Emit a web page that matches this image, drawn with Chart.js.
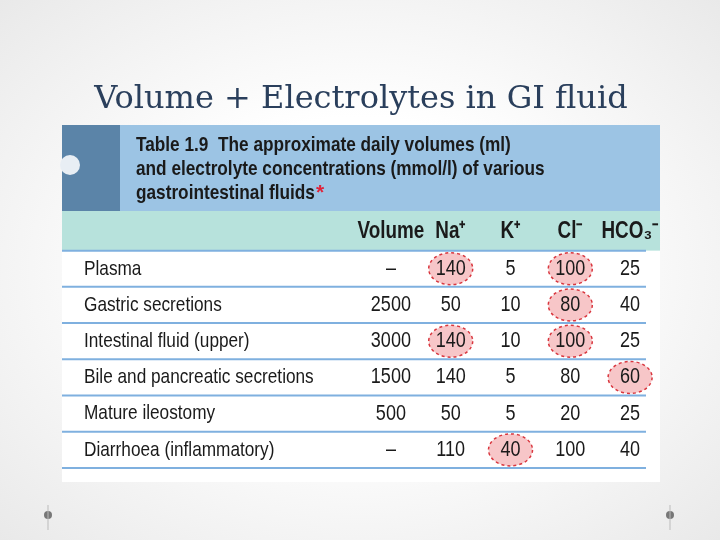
<!DOCTYPE html>
<html>
<head>
<meta charset="utf-8">
<script src="https://cdn.jsdelivr.net/npm/chart.js@4"></script>
<style>
  body { margin: 0; background: radial-gradient(ellipse at center, #ffffff 40%, #e9e9e9 100%); width: 720px; height: 540px; overflow: hidden; }
  #wrap { position: absolute; left: 0; top: 0; width: 720px; height: 540px; }
</style>
</head>
<body>
<div id="wrap"><canvas id="c" width="720" height="540"></canvas></div>
<script>
const slideTitle = 'Volume + Electrolytes in GI fluid';
const tableTitle = ['Table 1.9  The approximate daily volumes (ml)', 'and electrolyte concentrations (mmol/l) of various', 'gastrointestinal fluids'];
const columns = ['Volume', 'Na⁺', 'K⁺', 'Cl⁻', 'HCO₃⁻'];
const rowNames = ['Plasma', 'Gastric secretions', 'Intestinal fluid (upper)', 'Bile and pancreatic secretions', 'Mature ileostomy', 'Diarrhoea (inflammatory)'];
const volume = ['–', '2500', '3000', '1500', '500', '–'];
const sodium = [140, 50, 140, 140, 50, 110];
const potassium = [5, 10, 10, 5, 5, 40];
const chloride = [100, 80, 100, 80, 20, 100];
const bicarbonate = [25, 40, 25, 60, 25, 40];
// highlighted cells [row, column index]
const circled = [[0, 1], [0, 3], [1, 3], [2, 1], [2, 3], [3, 4], [5, 2]];

const PAD = 5; // empty slots before first value column (room for row names)
const xLabels = [...Array(PAD).fill(''), ...columns];
const yLabels = ['header', ...rowNames];
const valueCols = [volume, sodium, potassium, chloride, bicarbonate];

const cells = [];
rowNames.forEach((r, ri) => valueCols.forEach((col, ci) => cells.push({ x: xLabels[PAD + ci], y: r, v: String(col[ri]) })));

const SQ = 0.82; // horizontal squeeze, the source uses a condensed face
function narrowText(ctx, t, px, py, align) {
  ctx.save();
  ctx.translate(px, py); ctx.scale(SQ, 1);
  ctx.textAlign = align;
  ctx.fillText(t, 0, 0);
  ctx.restore();
}

const tablePlugin = {
  id: 'table',
  beforeDatasetsDraw(chart) {
    const { ctx, chartArea: a, scales: { x, y } } = chart;
    const rowH = y.getPixelForValue(1) - y.getPixelForValue(0);
    ctx.save();
    ctx.fillStyle = '#ffffff';
    ctx.fillRect(a.left, 125, a.right - a.left, 357);
    ctx.fillStyle = '#9cc4e4';
    ctx.fillRect(a.left, 125, a.right - a.left, 86);
    ctx.fillStyle = '#5b84a8';
    ctx.fillRect(a.left, 125, 58, 86);
    ctx.fillStyle = '#e8eef4';
    ctx.beginPath(); ctx.arc(a.left + 8, 165, 10, 0, Math.PI * 2); ctx.fill();
    ctx.fillStyle = '#9cc4e4';
    ctx.fillRect(a.left + 58, 125, 10, 86);
    ctx.fillStyle = '#1a1a1a';
    ctx.font = 'bold 21px "Liberation Sans", Arial';
    ctx.textBaseline = 'middle';
    tableTitle.forEach((t, i) => narrowText(ctx, t, a.left + 74, 145 + i * 24, 'left'));
    ctx.fillStyle = '#e0223a';
    ctx.fillText('*', a.left + 74 + ctx.measureText(tableTitle[2]).width * SQ + 1, 193);
    // header row
    ctx.fillStyle = '#b7e2dc';
    ctx.fillRect(a.left, 211, a.right - a.left, y.getPixelForValue(0) + rowH / 2 - 211);
    ctx.strokeStyle = '#7fb0df'; ctx.lineWidth = 2;
    for (let i = 1; i <= rowNames.length; i++) {
      const yy = y.getPixelForValue(i) - rowH / 2;
      ctx.beginPath(); ctx.moveTo(a.left, yy); ctx.lineTo(a.right - 14, yy); ctx.stroke();
    }
    ctx.beginPath(); ctx.moveTo(a.left, a.bottom); ctx.lineTo(a.right - 14, a.bottom); ctx.stroke();
    circled.forEach(([ri, ci]) => {
      const cx = x.getPixelForValue(PAD + ci), cy = y.getPixelForValue(ri + 1);
      ctx.beginPath(); ctx.ellipse(cx, cy, 22, 16, 0, 0, Math.PI * 2);
      ctx.fillStyle = '#f7c6c8'; ctx.fill();
      ctx.setLineDash([3, 3]); ctx.strokeStyle = '#d9363e'; ctx.lineWidth = 1.5; ctx.stroke();
      ctx.setLineDash([]);
    });
    ctx.fillStyle = '#1a1a1a';
    ctx.font = 'bold 23px "Liberation Sans", Arial';
    columns.forEach((c, ci) => narrowText(ctx, c, x.getPixelForValue(PAD + ci), y.getPixelForValue(0) - 1, 'center'));
    ctx.font = '21px "Liberation Sans", Arial';
    rowNames.forEach((r, ri) => narrowText(ctx, r, a.left + 22, y.getPixelForValue(ri + 1), 'left'));
    ctx.restore();
  },
  afterDatasetsDraw(chart) {
    const { ctx, scales: { x, y } } = chart;
    ctx.save();
    ctx.fillStyle = '#1a1a1a';
    ctx.font = '22px "Liberation Sans", Arial';
    ctx.textBaseline = 'middle';
    chart.data.datasets[0].data.forEach(d => narrowText(ctx, d.v, x.getPixelForValue(d.x), y.getPixelForValue(d.y), 'center'));
    ctx.restore();
  }
};

new Chart(document.getElementById('c'), {
  type: 'scatter',
  data: { datasets: [{ data: cells, pointRadius: 0 }] },
  options: {
    responsive: false, animation: false,
    layout: { padding: { left: 62, right: 60, top: 0, bottom: 72 } },
    plugins: {
      legend: { display: false }, tooltip: { enabled: false },
      title: { display: true, text: slideTitle, color: '#2a3f5c', font: { family: 'DejaVu Serif', size: 32, weight: 'normal' }, padding: { top: 80, bottom: 96 } }
    },
    scales: {
      x: { type: 'category', labels: xLabels, offset: true, display: false },
      y: { type: 'category', labels: yLabels, offset: true, display: false }
    }
  },
  plugins: [tablePlugin, {
    id: 'dots', afterDraw(chart) {
      const ctx = chart.ctx; ctx.save(); ctx.fillStyle = '#777';
      [[48, 515], [670, 515]].forEach(([px, py]) => { ctx.beginPath(); ctx.arc(px, py, 4, 0, Math.PI * 2); ctx.fill(); });
      ctx.strokeStyle = '#bbb'; ctx.lineWidth = 1; ctx.beginPath(); ctx.moveTo(48, 505); ctx.lineTo(48, 530); ctx.moveTo(670, 505); ctx.lineTo(670, 530); ctx.stroke();
      ctx.restore();
    }
  }]
});
</script>
</body>
</html>
